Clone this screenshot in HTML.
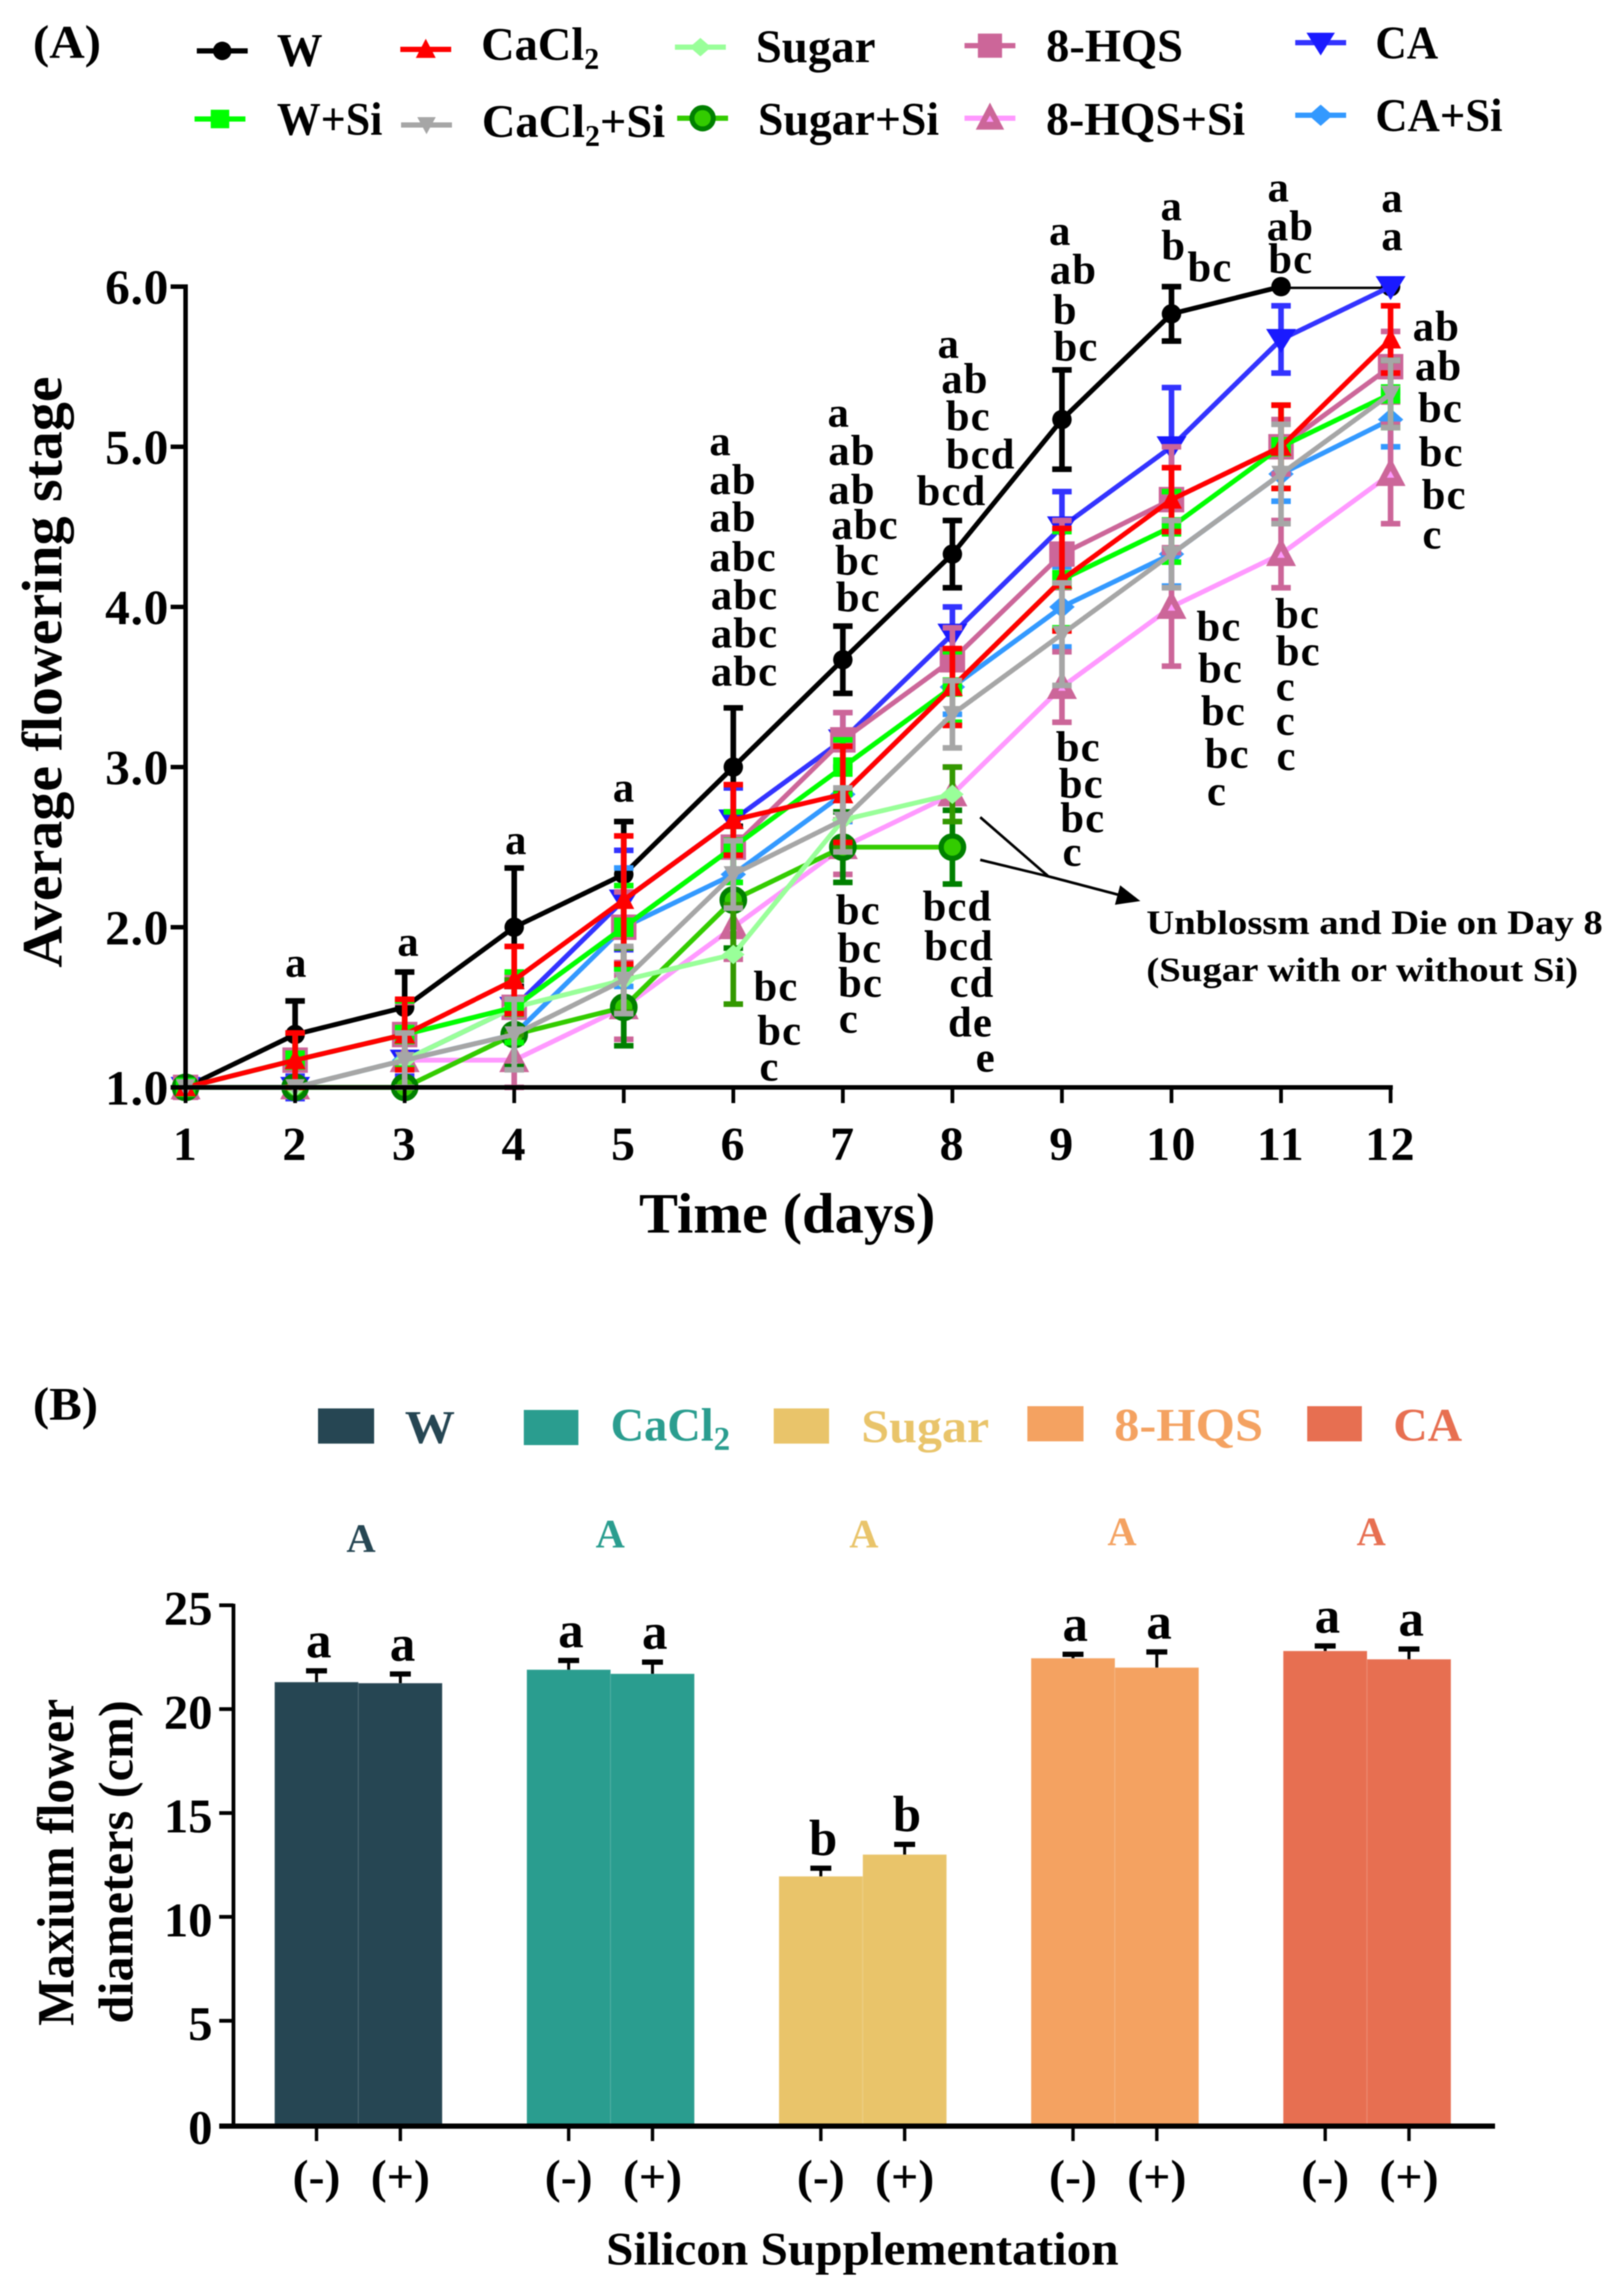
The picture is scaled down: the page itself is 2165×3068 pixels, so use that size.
<!DOCTYPE html>
<html lang="en">
<head>
<meta charset="utf-8">
<title>Flowering stage and flower diameter</title>
<style>
html,body{margin:0;padding:0;background:#fff;}
svg{display:block;filter:blur(0.8px);}
text{font-family:"Liberation Serif",serif;font-weight:bold;fill:#000;}
.sig{font-size:57px;letter-spacing:1.5px;}
.leg{font-size:62px;}
.legb{font-size:62px;}
.panel{font-size:62px;}
.note{font-size:46px;}
</style>
</head>
<body>
<svg id="chart" xmlns="http://www.w3.org/2000/svg" width="2165" height="3068" viewBox="0 0 2165 3068">
<rect x="0" y="0" width="2165" height="3068" fill="#fff"/>
<defs><clipPath id="plotClip"><rect x="200" y="383" width="1800" height="1200"/></clipPath></defs>

<text class="panel" x="44" y="77" textLength="91" lengthAdjust="spacingAndGlyphs">(A)</text>
<text class="panel" x="44" y="1897" textLength="87" lengthAdjust="spacingAndGlyphs">(B)</text>

<g id="legendA">
<text class="leg" x="370" y="88" textLength="61" lengthAdjust="spacingAndGlyphs">W</text>
<text class="leg" x="643" y="80">CaCl<tspan dy="12" font-size="40">2</tspan></text>
<text class="leg" x="1010" y="83" textLength="160" lengthAdjust="spacingAndGlyphs">Sugar</text>
<text class="leg" x="1398" y="82" textLength="183" lengthAdjust="spacingAndGlyphs">8-HQS</text>
<text class="leg" x="1838" y="78" textLength="84" lengthAdjust="spacingAndGlyphs">CA</text>
<text class="leg" x="370" y="180" textLength="141" lengthAdjust="spacingAndGlyphs">W+Si</text>
<text class="leg" x="644" y="183">CaCl<tspan dy="12" font-size="40">2</tspan><tspan dy="-12">+Si</tspan></text>
<text class="leg" x="1013" y="180" textLength="242" lengthAdjust="spacingAndGlyphs">Sugar+Si</text>
<text class="leg" x="1398" y="180" textLength="266" lengthAdjust="spacingAndGlyphs">8-HQS+Si</text>
<text class="leg" x="1838" y="175" textLength="170" lengthAdjust="spacingAndGlyphs">CA+Si</text>
</g>

<g id="plotA"></g>
<g id="axesA"></g>

<text transform="translate(82,1293) rotate(-90)" font-size="76" textLength="790" lengthAdjust="spacingAndGlyphs">Average flowering stage</text>
<text x="854" y="1647" font-size="76" textLength="396" lengthAdjust="spacingAndGlyphs">Time (days)</text>

<g>
<text class="sig" x="381" y="1305">a</text>
<text class="sig" x="531" y="1277">a</text>
<text class="sig" x="675" y="1141">a</text>
<text class="sig" x="819" y="1071">a</text>

<text class="sig" x="948" y="608">a</text>
<text class="sig" x="948" y="660">ab</text>
<text class="sig" x="948" y="710">ab</text>
<text class="sig" x="948" y="763">abc</text>
<text class="sig" x="950" y="814">abc</text>
<text class="sig" x="950" y="865">abc</text>
<text class="sig" x="950" y="916">abc</text>
<text class="sig" x="1007" y="1337">bc</text>
<text class="sig" x="1012" y="1396">bc</text>
<text class="sig" x="1015" y="1444">c</text>

<text class="sig" x="1106" y="570">a</text>
<text class="sig" x="1107" y="621">ab</text>
<text class="sig" x="1107" y="673">ab</text>
<text class="sig" x="1111" y="720">abc</text>
<text class="sig" x="1116" y="768">bc</text>
<text class="sig" x="1117" y="817">bc</text>
<text class="sig" x="1117" y="1235">bc</text>
<text class="sig" x="1119" y="1286">bc</text>
<text class="sig" x="1120" y="1332">bc</text>
<text class="sig" x="1121" y="1380">c</text>

<text class="sig" x="1253" y="478">a</text>
<text class="sig" x="1258" y="525">ab</text>
<text class="sig" x="1264" y="575">bc</text>
<text class="sig" x="1264" y="626">bcd</text>
<text class="sig" x="1225" y="675">bcd</text>
<text class="sig" x="1233" y="1230">bcd</text>
<text class="sig" x="1235" y="1283">bcd</text>
<text class="sig" x="1269" y="1332">cd</text>
<text class="sig" x="1267" y="1385">de</text>
<text class="sig" x="1304" y="1432">e</text>

<text class="sig" x="1402" y="327">a</text>
<text class="sig" x="1403" y="379">ab</text>
<text class="sig" x="1407" y="433">b</text>
<text class="sig" x="1408" y="482">bc</text>
<text class="sig" x="1411" y="1017">bc</text>
<text class="sig" x="1415" y="1066">bc</text>
<text class="sig" x="1417" y="1112">bc</text>
<text class="sig" x="1420" y="1157">c</text>

<text class="sig" x="1551" y="294">a</text>
<text class="sig" x="1552" y="347">b</text>
<text class="sig" x="1587" y="376">bc</text>
<text class="sig" x="1599" y="856">bc</text>
<text class="sig" x="1601" y="912">bc</text>
<text class="sig" x="1605" y="969">bc</text>
<text class="sig" x="1610" y="1026">bc</text>
<text class="sig" x="1613" y="1076">c</text>

<text class="sig" x="1694" y="269">a</text>
<text class="sig" x="1693" y="321">ab</text>
<text class="sig" x="1695" y="365">bc</text>
<text class="sig" x="1704" y="839">bc</text>
<text class="sig" x="1705" y="889">bc</text>
<text class="sig" x="1705" y="936">c</text>
<text class="sig" x="1705" y="982">c</text>
<text class="sig" x="1706" y="1029">c</text>

<text class="sig" x="1846" y="283">a</text>
<text class="sig" x="1846" y="334">a</text>
<text class="sig" x="1888" y="455">ab</text>
<text class="sig" x="1891" y="508">ab</text>
<text class="sig" x="1895" y="564">bc</text>
<text class="sig" x="1896" y="623">bc</text>
<text class="sig" x="1900" y="680">bc</text>
<text class="sig" x="1901" y="733">c</text>
</g>

<g>
<polyline points="1310,1092 1401,1171" fill="none" stroke="#000" stroke-width="3.5"/>
<polyline points="1310,1149 1401,1171 1500,1197" fill="none" stroke="#000" stroke-width="3.5"/>
<polygon points="1524,1204 1490,1209 1497,1183" fill="#000"/>
<text class="note" x="1532" y="1248" textLength="610" lengthAdjust="spacingAndGlyphs">Unblossm and Die on Day 8</text>
<text class="note" x="1532" y="1311" textLength="577" lengthAdjust="spacingAndGlyphs">(Sugar with or without Si)</text>
</g>

<g>
<rect x="425" y="1882" width="75" height="47" fill="#264653"/>
<text class="legb" x="541" y="1928" style="fill:#264653" textLength="67" lengthAdjust="spacingAndGlyphs">W</text>
<rect x="700" y="1884" width="73" height="47" fill="#2a9d8f"/>
<text class="legb" x="816" y="1925" style="fill:#2a9d8f">CaCl<tspan dy="12" font-size="44">2</tspan></text>
<rect x="1034" y="1882" width="74" height="47" fill="#e9c46a"/>
<text class="legb" x="1151" y="1927" style="fill:#e9c46a" textLength="171" lengthAdjust="spacingAndGlyphs">Sugar</text>
<rect x="1373" y="1879" width="75" height="47" fill="#f4a261"/>
<text class="legb" x="1489" y="1925" style="fill:#f4a261" textLength="199" lengthAdjust="spacingAndGlyphs">8-HQS</text>
<rect x="1747" y="1879" width="73" height="47" fill="#e76f51"/>
<text class="legb" x="1862" y="1925" style="fill:#e76f51" textLength="92" lengthAdjust="spacingAndGlyphs">CA</text>
</g>

<g>
<text x="463" y="2074" font-size="54" style="fill:#264653">A</text>
<text x="796" y="2068" font-size="54" style="fill:#2a9d8f">A</text>
<text x="1135" y="2068" font-size="54" style="fill:#e9c46a">A</text>
<text x="1480" y="2065" font-size="54" style="fill:#f4a261">A</text>
<text x="1813" y="2065" font-size="54" style="fill:#e76f51">A</text>
</g>

<g id="plotB"></g>
<g id="axesB"></g>

<text transform="translate(98,2707) rotate(-90)" font-size="70" textLength="437" lengthAdjust="spacingAndGlyphs">Maxium flower</text>
<text transform="translate(177,2704) rotate(-90)" font-size="66" textLength="432" lengthAdjust="spacingAndGlyphs">diameters (cm)</text>
<text x="810" y="3026" font-size="62" textLength="685" lengthAdjust="spacingAndGlyphs">Silicon Supplementation</text>

<script>
// ---- Panel A data ----
const days = [1,2,3,4,5,6,7,8,9,10,11,12];
const yTicksA = [1,2,3,4,5,6];
const yTickLabelsA = ["1.0","2.0","3.0","4.0","5.0","6.0"];

const wValues      = [1,1.33,1.5,2,2.33,3,3.67,4.33,5.17,5.83,6,6];
const wErrors      = [0,.21,.22,.37,.33,.37,.21,.21,.31,.17,0,0];
const caValues     = [1,1,1.17,1.5,2.17,2.67,3.17,3.83,4.5,5,5.67,6];
const caErrors     = [0,.07,.1,.17,.31,.2,.17,.17,.22,.37,.21,0];
const caSiValues   = [1,1,1.17,1.33,2,2.33,2.83,3.5,4,4.33,4.83,5.17];
const caSiErrors   = [0,0,.17,.2,.37,.2,.17,.17,.25,.2,.17,.17];
const hqsSiValues  = [1,1,1.17,1.17,1.5,2,2.5,2.83,3.5,4,4.33,4.83];
const hqsSiErrors  = [0,0,.17,.17,.2,.2,.17,.17,.22,.37,.21,.31];
const hqsValues    = [1,1.17,1.33,1.5,2,2.5,3.17,3.67,4.33,4.67,5,5.5];
const hqsErrors    = [0,.17,.2,.2,.22,.22,.17,.2,.21,.33,.17,.22];
const sugarSiValues= [1,1,1,1.33,1.5,2.17,2.5,2.5];
const sugarSiErrors= [0,0,0,.2,.24,.3,.22,.23];
const sugarValues  = [1,1,1.17,1.5,1.67,1.83,2.67,2.83];
const sugarErrors  = [0,0,.17,.17,.2,.31,.17,.17];
const wSiValues    = [1,1.17,1.33,1.5,2,2.5,3,3.5,4.17,4.5,5,5.33];
const wSiErrors    = [0,.17,.21,.22,.26,.22,.17,.22,.3,.22,.26,.21];
const caclValues   = [1,1.17,1.33,1.67,2.17,2.67,2.83,3.5,4.17,4.67,5,5.67];
const caclErrors   = [0,.17,.22,.21,.4,.22,.3,.24,.32,.2,.26,.21];
const caclSiValues = [1,1,1.17,1.33,1.67,2.33,2.67,3.33,3.83,4.33,4.83,5.33];
const caclSiErrors = [0,0,.17,.22,.21,.21,.2,.21,.32,.21,.31,.21];

// ---- Panel B data ----
const treatments = ["W","CaCl2","Sugar","8-HQS","CA"];
const siLabels = ["(-)","(+)"];
const barMinus = [21.3,21.9,11.95,22.45,22.8];
const barPlus  = [21.25,21.7,13,22,22.4];
const errMinus = [.65,.55,.5,.3,.35];
const errPlus  = [.55,.67,.6,.86,.6];
const lettersMinus = ["a","a","b","a","a"];
const lettersPlus  = ["a","a","b","a","a"];
const yTicksB = [0,5,10,15,20,25];

const NS = "http://www.w3.org/2000/svg";
function mk(parent, tag, attrs, txt){
  const el = document.createElementNS(NS, tag);
  for(const k in attrs) el.setAttribute(k, attrs[k]);
  if(txt !== undefined) el.textContent = txt;
  parent.appendChild(el);
  return el;
}
const xA = d => 248 + (d-1)*146.4;
const yA = v => 1453 - (v-1)*214;
const yB = v => 2839 - v*27.76;
const xBar = (g,k) => 367 + g*337 + k*112;

function drawMarker(parent, kind, cx, cy, col, s, name){
  s = s || 1;
  const P = a => a.map(p => (cx+p[0]*s)+","+(cy+p[1]*s)).join(" ");
  let el;
  if(kind==="circle"){ el = mk(parent,"circle",{cx:cx,cy:cy,r:13*s,fill:col}); }
  else if(kind==="square"){ el = mk(parent,"rect",{x:cx-17*s,y:cy-17*s,width:34*s,height:34*s,fill:col}); }
  else if(kind==="smallsquare"){ el = mk(parent,"rect",{x:cx-13*s,y:cy-13*s,width:26*s,height:26*s,fill:col}); }
  else if(kind==="tri"){ el = mk(parent,"polygon",{points:P([[0,-15],[14,12],[-14,12]]),fill:col}); }
  else if(kind==="tribig"){
    el = mk(parent,"polygon",{points:P([[0,-22],[20,16],[-20,16]]),fill:col});
    const inner = mk(parent,"polygon",{points:P([[0,-4],[5,5],[-5,5]]),fill:"#ff99ff"});
    
    
  }
  else if(kind==="inv"){ el = mk(parent,"polygon",{points:P([[-20,-14],[20,-14],[0,18]]),fill:col}); }
  else if(kind==="invsmall"){ el = mk(parent,"polygon",{points:P([[-13,-11],[13,-11],[0,13]]),fill:col}); }
  else if(kind==="diamond"){ el = mk(parent,"polygon",{points:P([[0,-15],[17,0],[0,15],[-17,0]]),fill:col}); }
  else if(kind==="diamondsmall"){ el = mk(parent,"polygon",{points:P([[0,-13],[15,0],[0,13],[-15,0]]),fill:col}); }
  else if(kind==="ring"){ el = mk(parent,"circle",{cx:cx,cy:cy,r:15*s,fill:"#33cc00",stroke:col,"stroke-width":7*s}); }
  
  
}

// Series in painting order (bottom to top)
const seriesA = [
 {id:"w",       vals:wValues,      errs:wErrors,      line:"#000000", err:"#000000", mark:"#000000", kind:"circle"},
 {id:"ca",      vals:caValues,     errs:caErrors,     line:"#3333ff", err:"#3333ff", mark:"#1a1aff", kind:"inv"},
 {id:"ca-si",   vals:caSiValues,   errs:caSiErrors,   line:"#3399ff", err:"#3399ff", mark:"#3399ff", kind:"diamond"},
 {id:"8hqs-si", vals:hqsSiValues,  errs:hqsSiErrors,  line:"#ff99ff", err:"#cc6699", mark:"#cc6699", kind:"tribig"},
 {id:"8hqs",    vals:hqsValues,    errs:hqsErrors,    line:"#cc6699", err:"#cc6699", mark:"#cc6699", kind:"square"},
 {id:"sugar-si",vals:sugarSiValues,errs:sugarSiErrors,line:"#33cc00", err:"#008000", mark:"#008000", kind:"ring"},
 {id:"sugar",   vals:sugarValues,  errs:sugarErrors,  line:"#99ff99", err:"#339900", mark:"#99ff99", kind:"diamondsmall"},
 {id:"w-si",    vals:wSiValues,    errs:wSiErrors,    line:"#00ff00", err:"#00ff00", mark:"#00ff00", kind:"smallsquare"},
 {id:"cacl2",   vals:caclValues,   errs:caclErrors,   line:"#ff0000", err:"#ff0000", mark:"#ff0000", kind:"tri"},
 {id:"cacl2-si",vals:caclSiValues, errs:caclSiErrors, line:"#a6a6a6", err:"#a6a6a6", mark:"#a6a6a6", kind:"invsmall"}
];

const plotA = document.getElementById("plotA");
seriesA.forEach(function(s){
  const g = mk(plotA,"g",{});
  
  
  const pts = s.vals.map((v,i)=>xA(days[i])+","+yA(v)).join(" ");
  const ln = mk(g,"polyline",{points:pts,fill:"none",stroke:s.line,"stroke-width":6.5,"stroke-linejoin":"round","clip-path":"url(#plotClip)"});
  
  
  s.vals.forEach(function(v,i){
    const e = s.errs[i];
    if(e<=0) return;
    const x = xA(days[i]);
    const eb = mk(g,"path",{d:"M"+x+" "+yA(v+e)+"V"+yA(v-e)+"M"+(x-13)+" "+yA(v+e)+"H"+(x+13)+"M"+(x-13)+" "+yA(v-e)+"H"+(x+13),fill:"none",stroke:s.err,"stroke-width":7.5});
    
    
  });
  s.vals.forEach(function(v,i){
    drawMarker(g,s.kind,xA(days[i]),yA(v),s.mark,1,'point-'+s.id);
  });
});

// Legend A keys
const legendKeys = [
 {s:0,x:297,y:68},{s:8,x:569,y:66},{s:6,x:936,y:63},{s:4,x:1323,y:61},{s:1,x:1765,y:57},
 {s:7,x:294,y:159},{s:9,x:570,y:167},{s:5,x:939,y:158},{s:3,x:1323,y:158},{s:2,x:1765,y:154}
];
const legendA = document.getElementById("legendA");
legendKeys.forEach(function(k){
  const s = seriesA[k.s];
  const l = mk(legendA,"line",{x1:k.x-34,x2:k.x+34,y1:k.y,y2:k.y,stroke:s.line,"stroke-width":7});
  
  
  drawMarker(legendA,s.kind,k.x,k.y,s.mark,0.95,'legend-marker-'+s.id);
});

// Axes A
const axesA = document.getElementById("axesA");
const yAxA = mk(axesA,"line",{x1:248,x2:248,y1:yA(6)-3,y2:yA(1)+3,stroke:"#000","stroke-width":6});


const xAxA = mk(axesA,"line",{x1:245,x2:xA(12)+3,y1:yA(1),y2:yA(1),stroke:"#000","stroke-width":6});


yTicksA.forEach(function(v,i){
  const t = mk(axesA,"line",{x1:228,x2:248,y1:yA(v),y2:yA(v),stroke:"#000","stroke-width":6});
  
  
  const lb = mk(axesA,"text",{x:226,y:yA(v)+23,"text-anchor":"end","font-size":66,"letter-spacing":"1px"},yTickLabelsA[i]);
  
  
});
days.forEach(function(d){
  const t = mk(axesA,"line",{x1:xA(d),x2:xA(d),y1:yA(1),y2:yA(1)+21,stroke:"#000","stroke-width":5});
  
  
  const lb = mk(axesA,"text",{x:xA(d),y:1550,"text-anchor":"middle","font-size":64,"letter-spacing":"2px"},String(d));
  
  
});

// Bars
const barColors = ["#264653","#2a9d8f","#e9c46a","#f4a261","#e76f51"];
const plotB = document.getElementById("plotB");
treatments.forEach(function(name,g){
  [[barMinus,errMinus,lettersMinus],[barPlus,errPlus,lettersPlus]].forEach(function(set,k){
    const v = set[0][g], e = set[1][g], x = xBar(g,k), cx = x+56;
    const r = mk(plotB,"rect",{x:x,y:yB(v),width:112,height:yB(0)-yB(v),fill:barColors[g],stroke:"#ffffff","stroke-opacity":0.12,"stroke-width":1.5});
    
    
    const eb = mk(plotB,"path",{d:"M"+cx+" "+yB(v)+"V"+yB(v+e),fill:"none",stroke:"#000","stroke-width":4});
    
    
    const cap = mk(plotB,"line",{x1:cx-14,x2:cx+14,y1:yB(v+e)+3,y2:yB(v+e)+3,stroke:"#000","stroke-width":7});
    
    
    const lt = mk(plotB,"text",{x:cx+3,y:yB(v+e)-15,"text-anchor":"middle","font-size":68},set[2][g]);
    
    
  });
});

// Axes B
const axesB = document.getElementById("axesB");
const yAxB = mk(axesB,"line",{x1:312,x2:312,y1:yB(25)-2,y2:yB(0),stroke:"#000","stroke-width":5});


const xAxB = mk(axesB,"line",{x1:293,x2:1998,y1:yB(0)+2,y2:yB(0)+2,stroke:"#000","stroke-width":7});


yTicksB.forEach(function(v){
  if(v>0){
    const t = mk(axesB,"line",{x1:293,x2:312,y1:yB(v),y2:yB(v),stroke:"#000","stroke-width":5});
    
    
  }
  const lb = mk(axesB,"text",{x:284,y:yB(v)+26,"text-anchor":"end","font-size":65},String(v));
  
  
});
treatments.forEach(function(name,g){
  siLabels.forEach(function(s,k){
    const cx = xBar(g,k)+56;
    const t = mk(axesB,"line",{x1:cx,x2:cx,y1:yB(0),y2:2861,stroke:"#000","stroke-width":4.5});
    
    
    const lb = mk(axesB,"text",{x:cx,y:2930,"text-anchor":"middle","font-size":64},s);
    
    
  });
});
</script>
</svg>
</body>
</html>
